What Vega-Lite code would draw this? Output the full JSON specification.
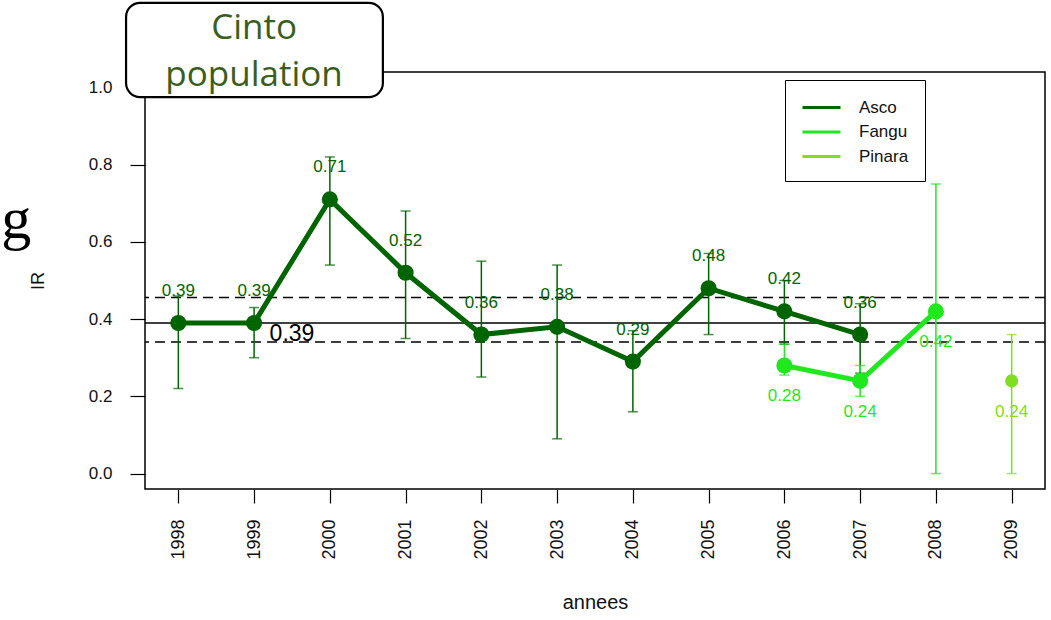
{
  "$schema": "https://vega.github.io/schema/vega-lite/v6.json",
  "autosize": "none",
  "width": 900,
  "height": 417,
  "padding": {"left": 145, "top": 72, "right": 6, "bottom": 131},
  "background": "white",
  "config": {
    "view": {"stroke": "black", "strokeWidth": 1.5},
    "font": "Liberation Sans",
    "axis": {"grid": false, "domain": false, "tickColor": "black", "labelColor": "#111", "titleColor": "#111", "labelFont": "Liberation Sans", "titleFont": "Liberation Sans", "titleFontWeight": "normal", "tickWidth": 1.2}
  },
  "layer": [
    {
      "data": {"values": [
        {"site": "Asco", "annee": 1998, "v": 0.39, "lo": 0.22, "hi": 0.46},
        {"site": "Asco", "annee": 1999, "v": 0.39, "lo": 0.30, "hi": 0.43},
        {"site": "Asco", "annee": 2000, "v": 0.71, "lo": 0.54, "hi": 0.82},
        {"site": "Asco", "annee": 2001, "v": 0.52, "lo": 0.35, "hi": 0.68},
        {"site": "Asco", "annee": 2002, "v": 0.36, "lo": 0.25, "hi": 0.55},
        {"site": "Asco", "annee": 2003, "v": 0.38, "lo": 0.09, "hi": 0.54},
        {"site": "Asco", "annee": 2004, "v": 0.29, "lo": 0.16, "hi": 0.37},
        {"site": "Asco", "annee": 2005, "v": 0.48, "lo": 0.36, "hi": 0.57},
        {"site": "Asco", "annee": 2006, "v": 0.42, "lo": 0.335, "hi": 0.50},
        {"site": "Asco", "annee": 2007, "v": 0.36, "lo": 0.26, "hi": 0.44},
        {"site": "Fangu", "annee": 2006, "v": 0.28, "lo": 0.255, "hi": 0.335},
        {"site": "Fangu", "annee": 2007, "v": 0.24, "lo": 0.20, "hi": 0.28},
        {"site": "Fangu", "annee": 2008, "v": 0.42, "lo": 0.0, "hi": 0.75},
        {"site": "Pinara", "annee": 2009, "v": 0.24, "lo": 0.0, "hi": 0.36}
      ]},
      "encoding": {
        "x": {"field": "annee", "type": "quantitative", "scale": {"domain": [1997.56, 2009.44], "nice": false, "zero": false},
          "axis": {"values": [1998, 1999, 2000, 2001, 2002, 2003, 2004, 2005, 2006, 2007, 2008, 2009], "format": "d", "labelAngle": 270, "labelFontSize": 18, "tickSize": 14, "labelPadding": 16, "title": "annees", "titleFontSize": 20, "titlePadding": 33}},
        "y": {"type": "quantitative", "scale": {"domain": [-0.04, 1.04], "nice": false, "zero": false},
          "axis": {"values": [0, 0.2, 0.4, 0.6, 0.8, 1.0], "format": ".1f", "labelFontSize": 17, "tickSize": 15, "labelPadding": 18, "title": "IR", "titleFontSize": 18, "titlePadding": 41}},
        "color": {"field": "site", "type": "nominal", "scale": {"domain": ["Asco", "Fangu", "Pinara"], "range": ["#006400", "#1fe81f", "#80dd22"]},
          "legend": {"orient": "none", "legendX": 640, "legendY": 8, "title": null, "symbolType": "M-1,0H2.8", "symbolSize": 400, "symbolStrokeWidth": 2.8, "symbolOpacity": 1, "symbolFillColor": "transparent", "labelFontSize": 17, "labelFont": "Liberation Sans", "labelColor": "#111", "labelOffset": 35, "rowPadding": 4.5, "padding": 16, "strokeColor": "black", "fillColor": "white", "labelExpr": "datum.label + '\u00a0\u00a0\u00a0\u00a0'"}}
      },
      "layer": [
        {"data": {"values": [{"m": 0.39}]}, "mark": {"type": "rule", "color": "black", "strokeWidth": 1.5}, "encoding": {"y": {"field": "m", "type": "quantitative"}, "x": null, "color": null}},
        {"data": {"values": [{"m": 0.456}, {"m": 0.341}]}, "mark": {"type": "rule", "color": "black", "strokeWidth": 1.5, "strokeDash": [10, 6]}, "encoding": {"y": {"field": "m", "type": "quantitative"}, "x": null, "color": null}},
        {"mark": {"type": "rule", "strokeWidth": 1.5}, "encoding": {"y": {"field": "lo"}, "y2": {"field": "hi"}}},
        {"mark": {"type": "tick", "orient": "horizontal", "size": 10, "thickness": 1.5}, "encoding": {"y": {"field": "lo"}}},
        {"mark": {"type": "tick", "orient": "horizontal", "size": 10, "thickness": 1.5}, "encoding": {"y": {"field": "hi"}}},
        {"mark": {"type": "line", "strokeWidth": 5}, "encoding": {"y": {"field": "v"}}},
        {"transform": [{"filter": "datum.site != 'Pinara'"}], "mark": {"type": "circle", "size": 260, "opacity": 1}, "encoding": {"y": {"field": "v"}}},
        {"transform": [{"filter": "datum.site == 'Pinara'"}], "mark": {"type": "circle", "size": 170, "opacity": 1}, "encoding": {"y": {"field": "v"}}},
        {"transform": [{"filter": "datum.site == 'Asco'"}], "mark": {"type": "text", "dy": -32, "fontSize": 17, "font": "Liberation Sans"}, "encoding": {"y": {"field": "v"}, "text": {"field": "v", "type": "quantitative", "format": ".2f"}}},
        {"transform": [{"filter": "datum.site != 'Asco'"}], "mark": {"type": "text", "dy": 31, "fontSize": 17, "font": "Liberation Sans"}, "encoding": {"y": {"field": "v"}, "text": {"field": "v", "type": "quantitative", "format": ".2f"}}}
      ]
    },
    {"data": {"values": [{"t": "0.39"}]}, "mark": {"type": "text", "fontSize": 23, "color": "black", "font": "Liberation Sans"}, "encoding": {"x": {"datum": 1999.5, "type": "quantitative"}, "y": {"datum": 0.362, "type": "quantitative"}, "text": {"field": "t", "type": "nominal"}}},
    {"data": {"values": [{"t": "box"}]}, "mark": {"type": "rect", "fill": "white", "stroke": "black", "strokeWidth": 2.2, "cornerRadius": 14}, "encoding": {"x": {"datum": 1997.31, "type": "quantitative"}, "x2": {"datum": 2000.70}, "y": {"datum": 1.219, "type": "quantitative"}, "y2": {"datum": 0.975}}},
    {"data": {"values": [{"t": "Cinto"}]}, "mark": {"type": "text", "baseline": "alphabetic", "align": "center", "fontSize": 35, "fontWeight": 400, "font": "Open Sans", "color": "#3b5e20"}, "encoding": {"x": {"datum": 1999.0, "type": "quantitative"}, "y": {"datum": 1.1255, "type": "quantitative"}, "text": {"field": "t", "type": "nominal"}}},
    {"data": {"values": [{"t": "population"}]}, "mark": {"type": "text", "baseline": "alphabetic", "align": "center", "fontSize": 35, "fontWeight": 400, "font": "Open Sans", "color": "#3b5e20"}, "encoding": {"x": {"datum": 1999.0, "type": "quantitative"}, "y": {"datum": 1.003, "type": "quantitative"}, "text": {"field": "t", "type": "nominal"}}},
    {"data": {"values": [{"t": "g"}]}, "mark": {"type": "text", "baseline": "alphabetic", "align": "center", "fontSize": 60, "font": "Liberation Serif", "color": "black"}, "encoding": {"x": {"datum": 1995.86, "type": "quantitative"}, "y": {"datum": 0.61, "type": "quantitative"}, "text": {"field": "t", "type": "nominal"}}}
  ]
}
